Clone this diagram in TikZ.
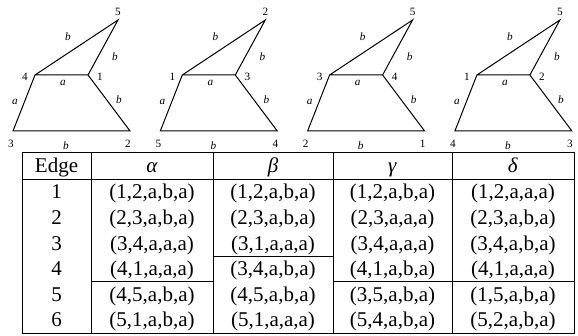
\documentclass[tikz,border=0pt]{standalone}
\usepackage{fontspec}
\setmainfont{Liberation Serif}
\begin{document}
\begin{tikzpicture}[x=0.5pt,y=-0.5pt,line width=0.5pt,
  vlabel/.style={inner sep=0pt,font=\fontsize{5.6}{6}\selectfont},
  elabel/.style={inner sep=0pt,font=\fontsize{5.6}{6}\selectfont\itshape},
  cell/.style={inner sep=0pt,anchor=base,font=\fontsize{10.5}{12}\selectfont}]
\useasboundingbox (0,0) rectangle (578,336);
% 四个图（顶点编号不同，边标记相同）
\foreach \i/\vtl/\vtr/\vap/\vbl/\vbr in {0/4/1/5/3/2,1/1/3/2/5/4,2/3/4/5/2/1,3/1/2/5/4/3}{
\begin{scope}[shift={(\i*147.3,0)}]
  \coordinate (tl\i) at (35,75);
  \coordinate (tr\i) at (88,75);
  \coordinate (ap\i) at (118,20);
  \coordinate (bl\i) at (13,131);
  \coordinate (br\i) at (130,131);
  \draw (tl\i) -- (ap\i) -- (tr\i) -- (br\i) -- (bl\i) -- (tl\i) -- (tr\i);
  % 顶点编号
  \node[vlabel] (ntl\i) at (25,77) {\vtl};
  \node[vlabel] (ntr\i) at (100,77) {\vtr};
  \node[vlabel] (nap\i) at (118,12) {\vap};
  \node[vlabel] (nbl\i) at (11,144) {\vbl};
  \node[vlabel] (nbr\i) at (128,144) {\vbr};
  % 边标记
  \node[elabel] (eta\i) at (68,37) {b};
  \node[elabel] (ear\i) at (115,57) {b};
  \node[elabel] (emid\i) at (63,83) {a};
  \node[elabel] (elft\i) at (15,102) {a};
  \node[elabel] (ergt\i) at (119,100) {b};
  \node[elabel] (ebot\i) at (66,146) {b};
\end{scope}
}
% 表格框线
\draw (22,153) rectangle (574,333);
\draw (22,180) -- (574,180);
\foreach \x in {91,213,333,452}
  \draw (\x,153) -- (\x,333);
% 各列内的分隔线
\draw (91,282) -- (213,282);
\draw (213,256.5) -- (333,256.5);
\draw (333,282) -- (574,282);
% 表头
\node[cell] (hedge) at (56.5,172.5) {Edge};
\node[cell] (halpha) at (152,172.5) {\textit{α}};
\node[cell] (hbeta) at (273,172.5) {\textit{β}};
\node[cell] (hgamma) at (392.5,172.5) {\textit{γ}};
\node[cell] (hdelta) at (513,172.5) {\textit{δ}};
% 表内容
\foreach \r/\ta/\tb/\tc/\td in {
  1/{(1,2,a,b,a)}/{(1,2,a,b,a)}/{(1,2,a,b,a)}/{(1,2,a,a,a)},
  2/{(2,3,a,b,a)}/{(2,3,a,b,a)}/{(2,3,a,a,a)}/{(2,3,a,b,a)},
  3/{(3,4,a,a,a)}/{(3,1,a,a,a)}/{(3,4,a,a,a)}/{(3,4,a,b,a)},
  4/{(4,1,a,a,a)}/{(3,4,a,b,a)}/{(4,1,a,b,a)}/{(4,1,a,a,a)},
  5/{(4,5,a,b,a)}/{(4,5,a,b,a)}/{(3,5,a,b,a)}/{(1,5,a,b,a)},
  6/{(5,1,a,b,a)}/{(5,1,a,a,a)}/{(5,4,a,b,a)}/{(5,2,a,b,a)}}{
  \node[cell] (e\r) at (56.5,{199+25.5*(\r-1)}) {\r};
  \node[cell] (a\r) at (152,{199+25.5*(\r-1)}) {\ta};
  \node[cell] (b\r) at (273,{199+25.5*(\r-1)}) {\tb};
  \node[cell] (c\r) at (392.5,{199+25.5*(\r-1)}) {\tc};
  \node[cell] (d\r) at (513,{199+25.5*(\r-1)}) {\td};
}
\end{tikzpicture}
\end{document}
